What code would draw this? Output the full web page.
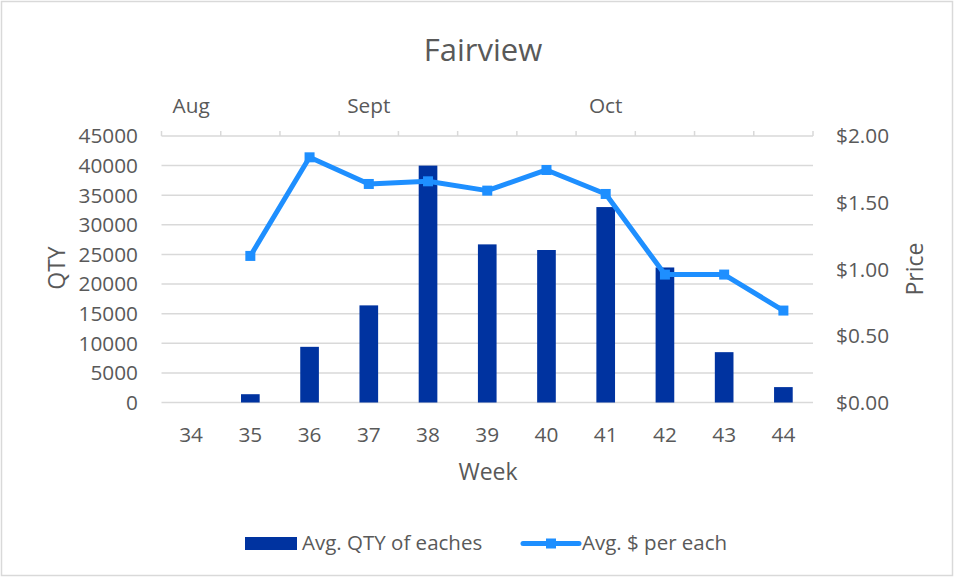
<!DOCTYPE html>
<html>
<head>
<meta charset="utf-8">
<script src="https://cdn.jsdelivr.net/npm/d3@7"></script>
<style>
  body { margin: 0; background: #fff; }
  svg text { font-family: 'Open Sans', sans-serif; fill: #595959; }
</style>
</head>
<body>
<div class="chart"></div>
<script>
// values
const weeks = [34, 35, 36, 37, 38, 39, 40, 41, 42, 43, 44];
const monthLabels = ['Aug', '', '', 'Sept', '', '', '', 'Oct', '', '', ''];
const qty = [null, 1400, 9400, 16400, 40000, 26700, 25750, 33000, 22800, 8500, 2600];
const price = [null, 1.10, 1.84, 1.64, 1.66, 1.59, 1.745, 1.565, 0.96, 0.96, 0.69];
const qtyTicks = [0, 5000, 10000, 15000, 20000, 25000, 30000, 35000, 40000, 45000];
const priceTicks = [0, 0.5, 1, 1.5, 2];

const width = 954,
  height = 577,
  plot = { left: 161.5, right: 813, top: 136, bottom: 402.5 },
  barColor = '#0033a0',
  lineColor = '#1e8fff',
  gridColor = '#d9d9d9',
  tickSize = '20.8px',
  titleSize = '23px';

const svg = d3
  .select('.chart')
  .append('svg')
  .attr('width', width)
  .attr('height', height);

// outer border
svg
  .append('rect')
  .attr('x', 1.5)
  .attr('y', 1.5)
  .attr('width', width - 3)
  .attr('height', height - 3)
  .attr('fill', '#fff')
  .attr('stroke', gridColor)
  .attr('stroke-width', 1.5);

const x = d3
  .scaleBand()
  .domain(weeks)
  .range([plot.left, plot.right])
  .padding(0);

const y = d3
  .scaleLinear()
  .domain([0, 45000])
  .range([plot.bottom, plot.top]);

const y2 = d3
  .scaleLinear()
  .domain([0, 2])
  .range([plot.bottom, plot.top]);

// gridlines
svg
  .append('g')
  .selectAll('line')
  .data(qtyTicks)
  .join('line')
  .attr('x1', plot.left)
  .attr('x2', plot.right)
  .attr('y1', d => y(d))
  .attr('y2', d => y(d))
  .attr('stroke', gridColor)
  .attr('stroke-width', 1.5);

// top (month) axis with tick marks between categories
const topAxis = svg.append('g');
topAxis
  .selectAll('line')
  .data(weeks.map(w => x(w)).concat([plot.right]))
  .join('line')
  .attr('x1', d => d)
  .attr('x2', d => d)
  .attr('y1', plot.top)
  .attr('y2', plot.top - 5)
  .attr('stroke', gridColor)
  .attr('stroke-width', 1.5);

topAxis
  .selectAll('text')
  .data(weeks.filter((w, i) => monthLabels[i]))
  .join('text')
  .attr('x', d => x(d) + x.bandwidth() / 2)
  .attr('y', 106)
  .attr('dy', '0.35em')
  .attr('text-anchor', 'middle')
  .style('font-size', tickSize)
  .text(d => monthLabels[weeks.indexOf(d)]);

// left axis labels
svg
  .append('g')
  .selectAll('text')
  .data(qtyTicks)
  .join('text')
  .attr('x', 138)
  .attr('y', d => y(d))
  .attr('dy', '0.35em')
  .attr('text-anchor', 'end')
  .style('font-size', tickSize)
  .text(d => d);

// right axis labels
svg
  .append('g')
  .selectAll('text')
  .data(priceTicks)
  .join('text')
  .attr('x', 836)
  .attr('y', d => y2(d))
  .attr('dy', '0.35em')
  .attr('text-anchor', 'start')
  .style('font-size', tickSize)
  .text(d => '$' + d3.format('.2f')(d));

// bottom category labels
svg
  .append('g')
  .selectAll('text')
  .data(weeks)
  .join('text')
  .attr('x', d => x(d) + x.bandwidth() / 2)
  .attr('y', 435)
  .attr('dy', '0.35em')
  .attr('text-anchor', 'middle')
  .style('font-size', tickSize)
  .text(d => d);

// bars
const barW = x.bandwidth() * 0.315;
svg
  .append('g')
  .selectAll('rect')
  .data(weeks.map((w, i) => ({ week: w, value: qty[i] })).filter(d => d.value != null))
  .join('rect')
  .attr('x', d => x(d.week) + (x.bandwidth() - barW) / 2)
  .attr('y', d => y(d.value))
  .attr('width', barW)
  .attr('height', d => plot.bottom - y(d.value))
  .attr('fill', barColor);

// line + markers
const pts = weeks.map((w, i) => ({ week: w, value: price[i] })).filter(d => d.value != null);
const line = d3
  .line()
  .x(d => x(d.week) + x.bandwidth() / 2)
  .y(d => y2(d.value));

svg
  .append('path')
  .datum(pts)
  .attr('d', line)
  .attr('fill', 'none')
  .attr('stroke', lineColor)
  .attr('stroke-width', 5)
  .attr('stroke-linejoin', 'round');

svg
  .append('g')
  .selectAll('rect')
  .data(pts)
  .join('rect')
  .attr('x', d => x(d.week) + x.bandwidth() / 2 - 5)
  .attr('y', d => y2(d.value) - 5)
  .attr('width', 10)
  .attr('height', 10)
  .attr('fill', lineColor);

// titles
svg
  .append('text')
  .attr('x', 483)
  .attr('y', 50)
  .attr('dy', '0.35em')
  .attr('text-anchor', 'middle')
  .style('font-size', '31px')
  .text('Fairview');

svg
  .append('text')
  .attr('transform', 'translate(57, 268) rotate(-90)')
  .attr('dy', '0.35em')
  .attr('text-anchor', 'middle')
  .style('font-size', titleSize)
  .text('QTY');

svg
  .append('text')
  .attr('transform', 'translate(915, 269) rotate(-90)')
  .attr('dy', '0.35em')
  .attr('text-anchor', 'middle')
  .style('font-size', titleSize)
  .text('Price');

svg
  .append('text')
  .attr('x', 488)
  .attr('y', 472)
  .attr('dy', '0.35em')
  .attr('text-anchor', 'middle')
  .style('font-size', titleSize)
  .text('Week');

// legend
const legend = svg.append('g');
legend
  .append('rect')
  .attr('x', 245)
  .attr('y', 537)
  .attr('width', 52)
  .attr('height', 13)
  .attr('fill', barColor);
legend
  .append('text')
  .attr('x', 302)
  .attr('y', 543)
  .attr('dy', '0.35em')
  .style('font-size', '20.5px')
  .text('Avg. QTY of eaches');
legend
  .append('line')
  .attr('x1', 523)
  .attr('x2', 579)
  .attr('y1', 543.5)
  .attr('y2', 543.5)
  .attr('stroke', lineColor)
  .attr('stroke-width', 5)
  .attr('stroke-linecap', 'round');
legend
  .append('rect')
  .attr('x', 546)
  .attr('y', 538.5)
  .attr('width', 10)
  .attr('height', 10)
  .attr('fill', lineColor);
legend
  .append('text')
  .attr('x', 582)
  .attr('y', 543)
  .attr('dy', '0.35em')
  .style('font-size', '20.5px')
  .text('Avg. $ per each');
</script>
</body>
</html>
